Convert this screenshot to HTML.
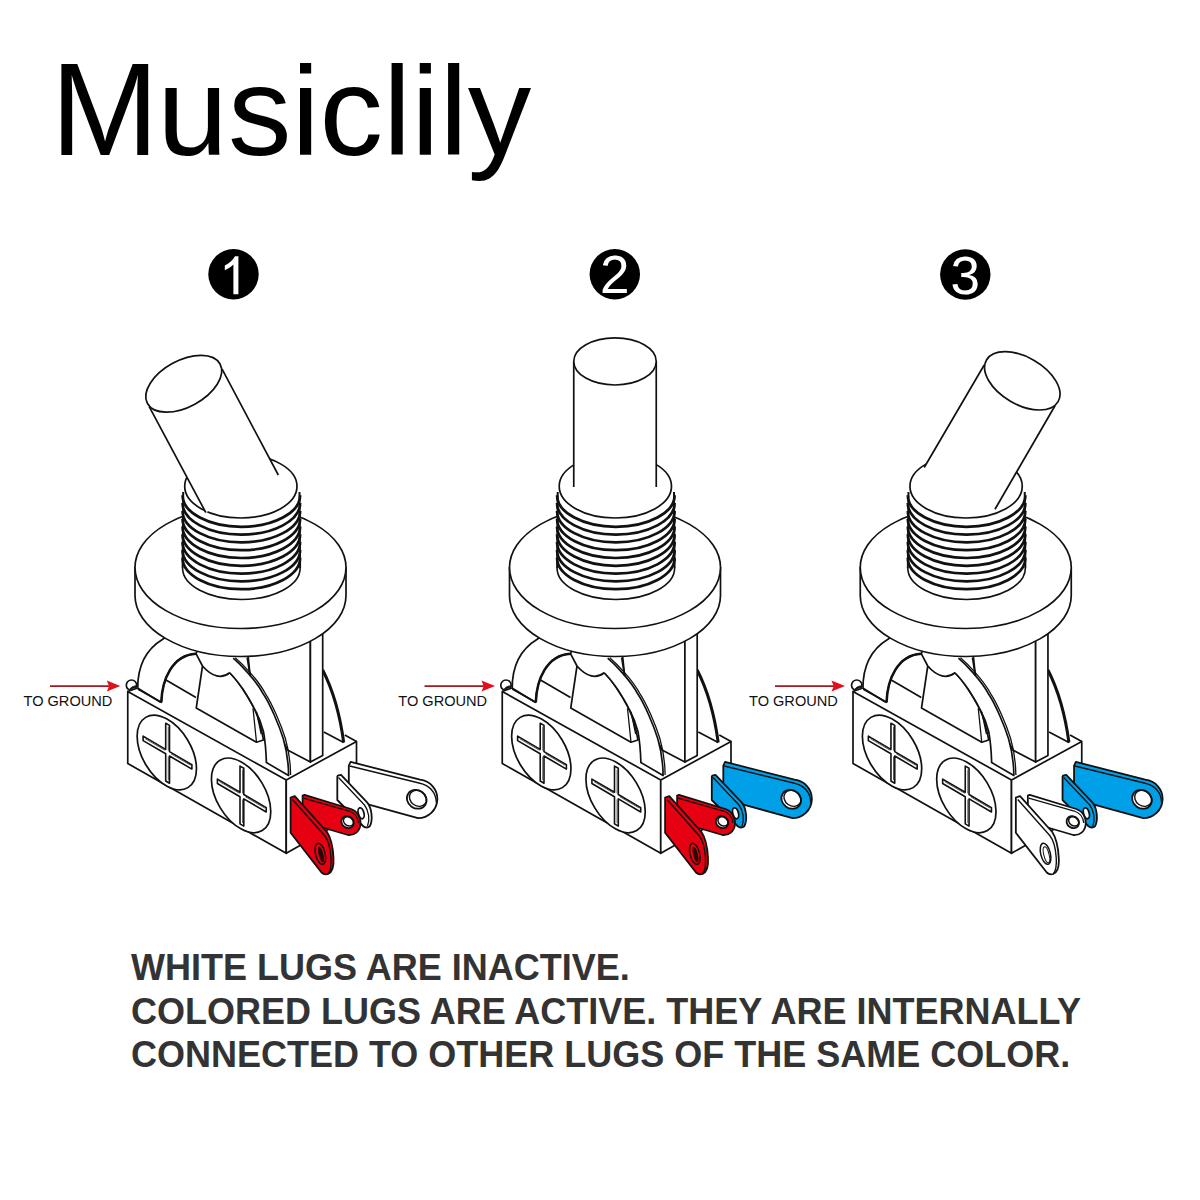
<!DOCTYPE html>
<html><head><meta charset="utf-8"><style>
html,body{margin:0;padding:0;background:#fff;width:1200px;height:1200px;overflow:hidden}
svg{position:absolute;left:0;top:0}
</style></head><body>
<svg width="1200" height="1200" viewBox="0 0 1200 1200">

<g font-family="Liberation Sans" font-size="127" fill="#000"><text transform="translate(61.5 155) scale(1.021 1.044) translate(-62 -154.8)" x="51.5" y="154.8">M</text><text x="157.28" y="155">usiclily</text></g>
<g font-family="Liberation Sans" font-size="52" fill="#fff" text-anchor="middle">
<circle cx="233.5" cy="274.2" r="25.2" fill="#000"/><path d="M238.4,256.2 L238.4,294.2 L233.4,294.2 L233.4,264.5 C231,267 228,268.8 224.8,270.2 L224.8,265.6 C229,263.5 233,260 235,256.2 Z"/>
<circle cx="614.8" cy="274.2" r="25.2" fill="#000"/><text x="614.8" y="292.6" font-size="53">2</text>
<circle cx="965.3" cy="274.5" r="25.2" fill="#000"/><text x="965.3" y="294.4" font-size="53">3</text>
</g>
<g stroke="#111" stroke-width="1.7" stroke-linejoin="round">
<path d="M322.7,670 Q338,700 343.7,742.5" fill="none" stroke-width="3"/>
<path d="M323.8,732 L343.7,742.5 M344.8,735 L356.5,741.4" fill="none"/>
<path d="M247.5,650 L310.4,640 L310.4,762 L287.5,750 L250.1,675.7 Z" fill="#fff"/>
<path d="M310.4,630 L322.7,625 L322.7,755.4 L310.4,762 Z" fill="#fff"/>
<path d="M137.7,689 C137.5,668 145,650 162.7,639.3 L175,630 L200,645 L196,653.7 C172,655 162,680 161.3,702.3 Z" fill="#fff"/>
<path d="M196,653.7 C172,655 162,680 161.3,702.3" fill="none" stroke-width="2.5"/>
<path d="M166,680 L196,697.5" fill="none"/>
<path d="M196,653.7 L202.5,666 C212,677 222,679 229.7,672.75 C238,681 247,695 254.2,708.3 C259,718 262,732 263.5,740 L256.5,742.2 L196.25,708 L202.5,666" fill="#fff"/>
<path d="M233.2,658.2 C240,664 256,680 263.5,694.3 C270,704 279,725 283.3,738.7 C286,748 288.5,765 288.6,775.4 L266.4,762.6 C266,750 265,740 263.5,731.7 C260,718 256,712 254.2,708.3 C250,700 246,694 242.5,688.5 C238,682 233,676 229.7,672.75 Z" fill="#fff" stroke="none"/>
<path d="M233.2,658.2 C240,664 256,680 263.5,694.3 C270,704 279,725 283.3,738.7 C286,748 288.5,765 288.6,775.4 L266.4,762.6 C266,750 265,740 263.5,731.7 C260,718 256,712 254.2,708.3 C250,700 246,694 242.5,688.5 C238,682 233,676 229.7,672.75" fill="none"/>
<path d="M235.2,657.7 C242,663.5 258,679.5 265.5,693.8 C272,703.5 281,724.5 285.3,738.2 C288,747.5 290.5,764.5 290.6,775" fill="none" stroke-width="1.3"/>
<path d="M253,708.3 L256.5,742.2 M256.5,711.8 L261.2,734" fill="none" stroke-width="1.3"/>
<path d="M247.2,657.6 L250.1,675.7" fill="none"/>
<path d="M135.0,567.5 L135.0,595.5 A105.5,61 0 0 0 346.0,595.5 L346.0,567.5 Z" fill="#fff"/>
<ellipse cx="240.5" cy="567.5" rx="105.5" ry="61" fill="#fff"/>
<path d="M182.55,487 L182.55,568.0 A58.8,31.5 0 0 0 300.15,568.0 L300.15,487 Z" fill="#fff" stroke="none"/>
<path d="M182.55,568.0 A58.8,31.5 0 0 0 300.15,568.0" fill="none" stroke-width="1.6"/>
<path d="M182.55,495.29999999999995 A58.8,31.5 0 0 0 300.15,495.29999999999995" fill="none" stroke-width="2.7"/>
<path d="M182.55,503.0999999999999 A58.8,31.5 0 0 0 300.15,503.0999999999999" fill="none" stroke-width="2.7"/>
<path d="M182.55,510.9 A58.8,31.5 0 0 0 300.15,510.9" fill="none" stroke-width="2.7"/>
<path d="M182.55,518.6999999999999 A58.8,31.5 0 0 0 300.15,518.6999999999999" fill="none" stroke-width="2.7"/>
<path d="M182.55,526.5 A58.8,31.5 0 0 0 300.15,526.5" fill="none" stroke-width="2.7"/>
<path d="M182.55,534.3 A58.8,31.5 0 0 0 300.15,534.3" fill="none" stroke-width="2.7"/>
<path d="M182.55,542.0999999999999 A58.8,31.5 0 0 0 300.15,542.0999999999999" fill="none" stroke-width="2.7"/>
<path d="M182.55,549.9 A58.8,31.5 0 0 0 300.15,549.9" fill="none" stroke-width="2.7"/>
<path d="M182.55,557.6999999999999 A58.8,31.5 0 0 0 300.15,557.6999999999999" fill="none" stroke-width="2.7"/>
<path d="M183.2,492 L182.6,568" fill="none" stroke-width="2"/><path d="M299.5,492 L300.1,568" fill="none" stroke-width="2"/>
<ellipse cx="240.85" cy="486.3" rx="56.15" ry="31.7" fill="#fff"/>
<circle cx="131.5" cy="685.2" r="5.2" fill="#fff"/>
<path d="M129.5,689.5 C130.5,687.5 133,686 136,685.8 L136.5,687.2 C134,687.6 131.5,689 130.5,690.5 Z" fill="#111" stroke-width="0.8"/>
<path d="M126,691.6 L137.5,687.6 L138,696 L126,699 Z" fill="#fff" stroke="none"/>
<path d="M127.75,691.5 L137.5,688" fill="none"/>
<path d="M127.75,691.5 L127.75,763.5 L286.25,853.3 L286.25,780 Z" fill="#fff"/>
<path d="M286.25,780 L356.5,741.4 L356.5,813.6 L286.25,853.3 Z" fill="#fff"/>
<path d="M137.5,688 L160.6,702.25" fill="none"/>
<ellipse cx="166.8" cy="752.5" rx="41" ry="24.3" transform="rotate(59 166.8 752.5)" fill="#fff"/>
<path d="M165.70,723.20 L169.50,725.40 L169.50,751.61 L191.90,764.72 L191.90,769.12 L169.50,756.01 L169.50,783.20 L165.70,781.00 L165.70,753.79 L143.10,740.57 L143.10,736.17 L165.70,749.39 Z" fill="#fff" stroke-width="1.6"/><path d="M168.30,726.70 L168.30,750.61 M168.30,756.51 L168.30,780.20 M145.10,738.64 L165.20,750.40 M171.00,753.79 L190.60,765.26" fill="none" stroke-width="0.9" stroke="#444"/>
<ellipse cx="241.1" cy="795.4" rx="41" ry="24.3" transform="rotate(59 241.1 795.4)" fill="#fff"/>
<path d="M240.00,766.10 L243.80,768.30 L243.80,794.51 L266.20,807.62 L266.20,812.02 L243.80,798.91 L243.80,826.10 L240.00,823.90 L240.00,796.69 L217.40,783.47 L217.40,779.07 L240.00,792.29 Z" fill="#fff" stroke-width="1.6"/><path d="M242.60,769.60 L242.60,793.51 M242.60,799.41 L242.60,823.10 M219.40,781.54 L239.50,793.30 M245.30,796.69 L264.90,808.15" fill="none" stroke-width="0.9" stroke="#444"/>
</g>
<g stroke="#111" stroke-width="1.7" stroke-linejoin="round" transform="translate(374.5 0)">
<path d="M322.7,670 Q338,700 343.7,742.5" fill="none" stroke-width="3"/>
<path d="M323.8,732 L343.7,742.5 M344.8,735 L356.5,741.4" fill="none"/>
<path d="M247.5,650 L310.4,640 L310.4,762 L287.5,750 L250.1,675.7 Z" fill="#fff"/>
<path d="M310.4,630 L322.7,625 L322.7,755.4 L310.4,762 Z" fill="#fff"/>
<path d="M137.7,689 C137.5,668 145,650 162.7,639.3 L175,630 L200,645 L196,653.7 C172,655 162,680 161.3,702.3 Z" fill="#fff"/>
<path d="M196,653.7 C172,655 162,680 161.3,702.3" fill="none" stroke-width="2.5"/>
<path d="M166,680 L196,697.5" fill="none"/>
<path d="M196,653.7 L202.5,666 C212,677 222,679 229.7,672.75 C238,681 247,695 254.2,708.3 C259,718 262,732 263.5,740 L256.5,742.2 L196.25,708 L202.5,666" fill="#fff"/>
<path d="M233.2,658.2 C240,664 256,680 263.5,694.3 C270,704 279,725 283.3,738.7 C286,748 288.5,765 288.6,775.4 L266.4,762.6 C266,750 265,740 263.5,731.7 C260,718 256,712 254.2,708.3 C250,700 246,694 242.5,688.5 C238,682 233,676 229.7,672.75 Z" fill="#fff" stroke="none"/>
<path d="M233.2,658.2 C240,664 256,680 263.5,694.3 C270,704 279,725 283.3,738.7 C286,748 288.5,765 288.6,775.4 L266.4,762.6 C266,750 265,740 263.5,731.7 C260,718 256,712 254.2,708.3 C250,700 246,694 242.5,688.5 C238,682 233,676 229.7,672.75" fill="none"/>
<path d="M235.2,657.7 C242,663.5 258,679.5 265.5,693.8 C272,703.5 281,724.5 285.3,738.2 C288,747.5 290.5,764.5 290.6,775" fill="none" stroke-width="1.3"/>
<path d="M253,708.3 L256.5,742.2 M256.5,711.8 L261.2,734" fill="none" stroke-width="1.3"/>
<path d="M247.2,657.6 L250.1,675.7" fill="none"/>
<path d="M135.0,567.5 L135.0,595.5 A105.5,61 0 0 0 346.0,595.5 L346.0,567.5 Z" fill="#fff"/>
<ellipse cx="240.5" cy="567.5" rx="105.5" ry="61" fill="#fff"/>
<path d="M182.55,487 L182.55,568.0 A58.8,31.5 0 0 0 300.15,568.0 L300.15,487 Z" fill="#fff" stroke="none"/>
<path d="M182.55,568.0 A58.8,31.5 0 0 0 300.15,568.0" fill="none" stroke-width="1.6"/>
<path d="M182.55,495.29999999999995 A58.8,31.5 0 0 0 300.15,495.29999999999995" fill="none" stroke-width="2.7"/>
<path d="M182.55,503.0999999999999 A58.8,31.5 0 0 0 300.15,503.0999999999999" fill="none" stroke-width="2.7"/>
<path d="M182.55,510.9 A58.8,31.5 0 0 0 300.15,510.9" fill="none" stroke-width="2.7"/>
<path d="M182.55,518.6999999999999 A58.8,31.5 0 0 0 300.15,518.6999999999999" fill="none" stroke-width="2.7"/>
<path d="M182.55,526.5 A58.8,31.5 0 0 0 300.15,526.5" fill="none" stroke-width="2.7"/>
<path d="M182.55,534.3 A58.8,31.5 0 0 0 300.15,534.3" fill="none" stroke-width="2.7"/>
<path d="M182.55,542.0999999999999 A58.8,31.5 0 0 0 300.15,542.0999999999999" fill="none" stroke-width="2.7"/>
<path d="M182.55,549.9 A58.8,31.5 0 0 0 300.15,549.9" fill="none" stroke-width="2.7"/>
<path d="M182.55,557.6999999999999 A58.8,31.5 0 0 0 300.15,557.6999999999999" fill="none" stroke-width="2.7"/>
<path d="M183.2,492 L182.6,568" fill="none" stroke-width="2"/><path d="M299.5,492 L300.1,568" fill="none" stroke-width="2"/>
<ellipse cx="240.85" cy="486.3" rx="56.15" ry="31.7" fill="#fff"/>
<circle cx="131.5" cy="685.2" r="5.2" fill="#fff"/>
<path d="M129.5,689.5 C130.5,687.5 133,686 136,685.8 L136.5,687.2 C134,687.6 131.5,689 130.5,690.5 Z" fill="#111" stroke-width="0.8"/>
<path d="M126,691.6 L137.5,687.6 L138,696 L126,699 Z" fill="#fff" stroke="none"/>
<path d="M127.75,691.5 L137.5,688" fill="none"/>
<path d="M127.75,691.5 L127.75,763.5 L286.25,853.3 L286.25,780 Z" fill="#fff"/>
<path d="M286.25,780 L356.5,741.4 L356.5,813.6 L286.25,853.3 Z" fill="#fff"/>
<path d="M137.5,688 L160.6,702.25" fill="none"/>
<ellipse cx="166.8" cy="752.5" rx="41" ry="24.3" transform="rotate(59 166.8 752.5)" fill="#fff"/>
<path d="M165.70,723.20 L169.50,725.40 L169.50,751.61 L191.90,764.72 L191.90,769.12 L169.50,756.01 L169.50,783.20 L165.70,781.00 L165.70,753.79 L143.10,740.57 L143.10,736.17 L165.70,749.39 Z" fill="#fff" stroke-width="1.6"/><path d="M168.30,726.70 L168.30,750.61 M168.30,756.51 L168.30,780.20 M145.10,738.64 L165.20,750.40 M171.00,753.79 L190.60,765.26" fill="none" stroke-width="0.9" stroke="#444"/>
<ellipse cx="241.1" cy="795.4" rx="41" ry="24.3" transform="rotate(59 241.1 795.4)" fill="#fff"/>
<path d="M240.00,766.10 L243.80,768.30 L243.80,794.51 L266.20,807.62 L266.20,812.02 L243.80,798.91 L243.80,826.10 L240.00,823.90 L240.00,796.69 L217.40,783.47 L217.40,779.07 L240.00,792.29 Z" fill="#fff" stroke-width="1.6"/><path d="M242.60,769.60 L242.60,793.51 M242.60,799.41 L242.60,823.10 M219.40,781.54 L239.50,793.30 M245.30,796.69 L264.90,808.15" fill="none" stroke-width="0.9" stroke="#444"/>
</g>
<g stroke="#111" stroke-width="1.7" stroke-linejoin="round" transform="translate(725.25 0)">
<path d="M322.7,670 Q338,700 343.7,742.5" fill="none" stroke-width="3"/>
<path d="M323.8,732 L343.7,742.5 M344.8,735 L356.5,741.4" fill="none"/>
<path d="M247.5,650 L310.4,640 L310.4,762 L287.5,750 L250.1,675.7 Z" fill="#fff"/>
<path d="M310.4,630 L322.7,625 L322.7,755.4 L310.4,762 Z" fill="#fff"/>
<path d="M137.7,689 C137.5,668 145,650 162.7,639.3 L175,630 L200,645 L196,653.7 C172,655 162,680 161.3,702.3 Z" fill="#fff"/>
<path d="M196,653.7 C172,655 162,680 161.3,702.3" fill="none" stroke-width="2.5"/>
<path d="M166,680 L196,697.5" fill="none"/>
<path d="M196,653.7 L202.5,666 C212,677 222,679 229.7,672.75 C238,681 247,695 254.2,708.3 C259,718 262,732 263.5,740 L256.5,742.2 L196.25,708 L202.5,666" fill="#fff"/>
<path d="M233.2,658.2 C240,664 256,680 263.5,694.3 C270,704 279,725 283.3,738.7 C286,748 288.5,765 288.6,775.4 L266.4,762.6 C266,750 265,740 263.5,731.7 C260,718 256,712 254.2,708.3 C250,700 246,694 242.5,688.5 C238,682 233,676 229.7,672.75 Z" fill="#fff" stroke="none"/>
<path d="M233.2,658.2 C240,664 256,680 263.5,694.3 C270,704 279,725 283.3,738.7 C286,748 288.5,765 288.6,775.4 L266.4,762.6 C266,750 265,740 263.5,731.7 C260,718 256,712 254.2,708.3 C250,700 246,694 242.5,688.5 C238,682 233,676 229.7,672.75" fill="none"/>
<path d="M235.2,657.7 C242,663.5 258,679.5 265.5,693.8 C272,703.5 281,724.5 285.3,738.2 C288,747.5 290.5,764.5 290.6,775" fill="none" stroke-width="1.3"/>
<path d="M253,708.3 L256.5,742.2 M256.5,711.8 L261.2,734" fill="none" stroke-width="1.3"/>
<path d="M247.2,657.6 L250.1,675.7" fill="none"/>
<path d="M135.0,567.5 L135.0,595.5 A105.5,61 0 0 0 346.0,595.5 L346.0,567.5 Z" fill="#fff"/>
<ellipse cx="240.5" cy="567.5" rx="105.5" ry="61" fill="#fff"/>
<path d="M182.55,487 L182.55,568.0 A58.8,31.5 0 0 0 300.15,568.0 L300.15,487 Z" fill="#fff" stroke="none"/>
<path d="M182.55,568.0 A58.8,31.5 0 0 0 300.15,568.0" fill="none" stroke-width="1.6"/>
<path d="M182.55,495.29999999999995 A58.8,31.5 0 0 0 300.15,495.29999999999995" fill="none" stroke-width="2.7"/>
<path d="M182.55,503.0999999999999 A58.8,31.5 0 0 0 300.15,503.0999999999999" fill="none" stroke-width="2.7"/>
<path d="M182.55,510.9 A58.8,31.5 0 0 0 300.15,510.9" fill="none" stroke-width="2.7"/>
<path d="M182.55,518.6999999999999 A58.8,31.5 0 0 0 300.15,518.6999999999999" fill="none" stroke-width="2.7"/>
<path d="M182.55,526.5 A58.8,31.5 0 0 0 300.15,526.5" fill="none" stroke-width="2.7"/>
<path d="M182.55,534.3 A58.8,31.5 0 0 0 300.15,534.3" fill="none" stroke-width="2.7"/>
<path d="M182.55,542.0999999999999 A58.8,31.5 0 0 0 300.15,542.0999999999999" fill="none" stroke-width="2.7"/>
<path d="M182.55,549.9 A58.8,31.5 0 0 0 300.15,549.9" fill="none" stroke-width="2.7"/>
<path d="M182.55,557.6999999999999 A58.8,31.5 0 0 0 300.15,557.6999999999999" fill="none" stroke-width="2.7"/>
<path d="M183.2,492 L182.6,568" fill="none" stroke-width="2"/><path d="M299.5,492 L300.1,568" fill="none" stroke-width="2"/>
<ellipse cx="240.85" cy="486.3" rx="56.15" ry="31.7" fill="#fff"/>
<circle cx="131.5" cy="685.2" r="5.2" fill="#fff"/>
<path d="M129.5,689.5 C130.5,687.5 133,686 136,685.8 L136.5,687.2 C134,687.6 131.5,689 130.5,690.5 Z" fill="#111" stroke-width="0.8"/>
<path d="M126,691.6 L137.5,687.6 L138,696 L126,699 Z" fill="#fff" stroke="none"/>
<path d="M127.75,691.5 L137.5,688" fill="none"/>
<path d="M127.75,691.5 L127.75,763.5 L286.25,853.3 L286.25,780 Z" fill="#fff"/>
<path d="M286.25,780 L356.5,741.4 L356.5,813.6 L286.25,853.3 Z" fill="#fff"/>
<path d="M137.5,688 L160.6,702.25" fill="none"/>
<ellipse cx="166.8" cy="752.5" rx="41" ry="24.3" transform="rotate(59 166.8 752.5)" fill="#fff"/>
<path d="M165.70,723.20 L169.50,725.40 L169.50,751.61 L191.90,764.72 L191.90,769.12 L169.50,756.01 L169.50,783.20 L165.70,781.00 L165.70,753.79 L143.10,740.57 L143.10,736.17 L165.70,749.39 Z" fill="#fff" stroke-width="1.6"/><path d="M168.30,726.70 L168.30,750.61 M168.30,756.51 L168.30,780.20 M145.10,738.64 L165.20,750.40 M171.00,753.79 L190.60,765.26" fill="none" stroke-width="0.9" stroke="#444"/>
<ellipse cx="241.1" cy="795.4" rx="41" ry="24.3" transform="rotate(59 241.1 795.4)" fill="#fff"/>
<path d="M240.00,766.10 L243.80,768.30 L243.80,794.51 L266.20,807.62 L266.20,812.02 L243.80,798.91 L243.80,826.10 L240.00,823.90 L240.00,796.69 L217.40,783.47 L217.40,779.07 L240.00,792.29 Z" fill="#fff" stroke-width="1.6"/><path d="M242.60,769.60 L242.60,793.51 M242.60,799.41 L242.60,823.10 M219.40,781.54 L239.50,793.30 M245.30,796.69 L264.90,808.15" fill="none" stroke-width="0.9" stroke="#444"/>
</g>
<g stroke="#111" stroke-width="1.7">
<path d="M149.2,406.7 L205.8,512.5 L278.3,475 L222.1,369.2 Z" fill="#fff" stroke="none"/><path d="M149.2,406.7 L205.8,512.5 M222.1,369.2 L278.3,475" fill="none"/><ellipse cx="183.75" cy="383.75" rx="41.3" ry="23.2" transform="rotate(-28.55 183.75 383.75)" fill="#fff"/>
<path d="M573.75,361.45 L573.75,487 L656.25,487 L656.25,361.45 Z" fill="#fff" stroke="none"/><path d="M573.75,361.45 L573.75,487 M656.25,361.45 L656.25,487" fill="none"/><ellipse cx="615" cy="361.45" rx="41.25" ry="23.55" fill="#fff"/>
<path d="M984.2,365 L924.2,467.5 L995,509.2 L1055,405.8 Z" fill="#fff" stroke="none"/><path d="M984.2,365 L924.2,467.5 M1055,405.8 L995,509.2" fill="none"/><ellipse cx="1022.3" cy="380.85" rx="41.4" ry="23.6" transform="rotate(30.2 1022.3 380.85)" fill="#fff"/>
</g>
<g transform="translate(0 0)" stroke="#111" stroke-width="1.8" stroke-linejoin="round">
<path d="M348.8,765.6 L350.6,761.9 L420,779.7 A19.3,19.3 0 0 1 418,818.2 L367.1,804.1 L348.8,800 Z" fill="#fff"/>
<path d="M349.7,766 L419,783 C430,785.5 436,793 436.4,803" fill="none" stroke-width="1.3"/>
<ellipse cx="416.7" cy="799.3" rx="10.2" ry="9.0" transform="rotate(35 416.7 799.3)" fill="#fff"/>
<ellipse cx="418.0" cy="798.3" rx="9.0" ry="7.6" transform="rotate(35 418.0 798.3)" fill="none" stroke-width="1.4"/>
<path d="M337.3,776.6 L337.75,775.7 L341,774.8 L367.1,802.3 C372,808 373,820 369.9,826.1 C368,828 365,828 363,826 L337.3,800 Z" fill="#fff"/>
<path d="M338.5,777.5 L364.5,805 C369,811 370,820 367.5,826" fill="none" stroke-width="1.3"/>
<ellipse cx="361.1" cy="813.3" rx="2.8" ry="5.6" transform="rotate(-15 361.1 813.3)" fill="#fff"/>
<path d="M302.6,818 L302.6,795.6 L304.5,794.8 L351,809 C357,811 361,817 360.5,824 C360,831 355,835.5 348,835 L317.3,826 Z" fill="#e60012"/>
<path d="M303.5,798 L349,811 C355,813 358,818 358.5,823" fill="none" stroke-width="1.3"/>
<ellipse cx="347.5" cy="822.2" rx="6.5" ry="5.6" transform="rotate(35 347.5 822.2)" fill="#fff" stroke-width="1.9"/>
<ellipse cx="348.5" cy="821.3" rx="5.4" ry="4.4" transform="rotate(35 348.5 821.3)" fill="none" stroke-width="1.5"/>
<path d="M290.6,797.5 L294.8,796.2 L327,832 C331,838 333,848 333.5,858 C334,866 333,872 328,874 C325,875 323,874 321.5,872.5 L290.6,832.8 Z" fill="#e60012"/>
<path d="M292.5,799.5 L324.5,835.5 C329,841 330.5,850 331,858 C331.5,866 330.5,871 328,874" fill="none" stroke-width="1.4"/>
<ellipse cx="320.3" cy="853.75" rx="4.8" ry="10.8" transform="rotate(-14 320.3 853.75)" fill="none" stroke-width="1.5"/>
<ellipse cx="321" cy="854.5" rx="2.4" ry="8" transform="rotate(-14 321 854.5)" fill="#2a0505" stroke="none"/>
</g>
<g transform="translate(374.5 0)" stroke="#111" stroke-width="1.8" stroke-linejoin="round">
<path d="M348.8,765.6 L350.6,761.9 L420,779.7 A19.3,19.3 0 0 1 418,818.2 L367.1,804.1 L348.8,800 Z" fill="#00a0e9"/>
<path d="M349.7,766 L419,783 C430,785.5 436,793 436.4,803" fill="none" stroke-width="1.3"/>
<ellipse cx="416.7" cy="799.3" rx="10.2" ry="9.0" transform="rotate(35 416.7 799.3)" fill="#fff"/>
<ellipse cx="418.0" cy="798.3" rx="9.0" ry="7.6" transform="rotate(35 418.0 798.3)" fill="none" stroke-width="1.4"/>
<path d="M337.3,776.6 L337.75,775.7 L341,774.8 L367.1,802.3 C372,808 373,820 369.9,826.1 C368,828 365,828 363,826 L337.3,800 Z" fill="#00a0e9"/>
<path d="M338.5,777.5 L364.5,805 C369,811 370,820 367.5,826" fill="none" stroke-width="1.3"/>
<ellipse cx="361.1" cy="813.3" rx="2.8" ry="5.6" transform="rotate(-15 361.1 813.3)" fill="#fff"/>
<path d="M302.6,818 L302.6,795.6 L304.5,794.8 L351,809 C357,811 361,817 360.5,824 C360,831 355,835.5 348,835 L317.3,826 Z" fill="#e60012"/>
<path d="M303.5,798 L349,811 C355,813 358,818 358.5,823" fill="none" stroke-width="1.3"/>
<ellipse cx="347.5" cy="822.2" rx="6.5" ry="5.6" transform="rotate(35 347.5 822.2)" fill="#fff" stroke-width="1.9"/>
<ellipse cx="348.5" cy="821.3" rx="5.4" ry="4.4" transform="rotate(35 348.5 821.3)" fill="none" stroke-width="1.5"/>
<path d="M290.6,797.5 L294.8,796.2 L327,832 C331,838 333,848 333.5,858 C334,866 333,872 328,874 C325,875 323,874 321.5,872.5 L290.6,832.8 Z" fill="#e60012"/>
<path d="M292.5,799.5 L324.5,835.5 C329,841 330.5,850 331,858 C331.5,866 330.5,871 328,874" fill="none" stroke-width="1.4"/>
<ellipse cx="320.3" cy="853.75" rx="4.8" ry="10.8" transform="rotate(-14 320.3 853.75)" fill="none" stroke-width="1.5"/>
<ellipse cx="321" cy="854.5" rx="2.4" ry="8" transform="rotate(-14 321 854.5)" fill="#2a0505" stroke="none"/>
</g>
<g transform="translate(725.25 0)" stroke="#111" stroke-width="1.8" stroke-linejoin="round">
<path d="M348.8,765.6 L350.6,761.9 L420,779.7 A19.3,19.3 0 0 1 418,818.2 L367.1,804.1 L348.8,800 Z" fill="#00a0e9"/>
<path d="M349.7,766 L419,783 C430,785.5 436,793 436.4,803" fill="none" stroke-width="1.3"/>
<ellipse cx="416.7" cy="799.3" rx="10.2" ry="9.0" transform="rotate(35 416.7 799.3)" fill="#fff"/>
<ellipse cx="418.0" cy="798.3" rx="9.0" ry="7.6" transform="rotate(35 418.0 798.3)" fill="none" stroke-width="1.4"/>
<path d="M337.3,776.6 L337.75,775.7 L341,774.8 L367.1,802.3 C372,808 373,820 369.9,826.1 C368,828 365,828 363,826 L337.3,800 Z" fill="#00a0e9"/>
<path d="M338.5,777.5 L364.5,805 C369,811 370,820 367.5,826" fill="none" stroke-width="1.3"/>
<ellipse cx="361.1" cy="813.3" rx="2.8" ry="5.6" transform="rotate(-15 361.1 813.3)" fill="#fff"/>
<path d="M302.6,818 L302.6,795.6 L304.5,794.8 L351,809 C357,811 361,817 360.5,824 C360,831 355,835.5 348,835 L317.3,826 Z" fill="#fff"/>
<path d="M303.5,798 L349,811 C355,813 358,818 358.5,823" fill="none" stroke-width="1.3"/>
<ellipse cx="347.5" cy="822.2" rx="6.5" ry="5.6" transform="rotate(35 347.5 822.2)" fill="#fff" stroke-width="1.9"/>
<ellipse cx="348.5" cy="821.3" rx="5.4" ry="4.4" transform="rotate(35 348.5 821.3)" fill="none" stroke-width="1.5"/>
<path d="M290.6,797.5 L294.8,796.2 L327,832 C331,838 333,848 333.5,858 C334,866 333,872 328,874 C325,875 323,874 321.5,872.5 L290.6,832.8 Z" fill="#fff"/>
<path d="M292.5,799.5 L324.5,835.5 C329,841 330.5,850 331,858 C331.5,866 330.5,871 328,874" fill="none" stroke-width="1.4"/>
<ellipse cx="320.3" cy="853.75" rx="4.8" ry="10.8" transform="rotate(-14 320.3 853.75)" fill="none" stroke-width="1.5"/>
<ellipse cx="321.2" cy="854.8" rx="2.6" ry="8.2" transform="rotate(-14 321.2 854.8)" fill="none" stroke-width="1"/>
</g>
<g fill="#a31825">
<path d="M50,685.2 L110,685.2 L110,687 L50,687 Z"/>
<path d="M424.5,685.2 L485,685.2 L485,687 L424.5,687 Z"/>
<path d="M775,685.2 L835,685.2 L835,687 L775,687 Z"/>
</g>
<g fill="#e3101c">
<path d="M120.3,686 L106.8,680.5 L109,686.2 L106.8,691.5 Z"/>
<path d="M495,686 L481.5,680.5 L483.7,686.2 L481.5,691.5 Z"/>
<path d="M845,686 L831.5,680.5 L833.7,686.2 L831.5,691.5 Z"/>
</g>
<g font-family="Liberation Sans" font-size="14.6" fill="#111">
<text x="23.5" y="706" transform="translate(0 706) scale(1 1.04) translate(0 -706)">TO GROUND</text>
<text x="398.3" y="706" transform="translate(0 706) scale(1 1.04) translate(0 -706)">TO GROUND</text>
<text x="749" y="706" transform="translate(0 706) scale(1 1.04) translate(0 -706)">TO GROUND</text>
</g>
<g font-family="Liberation Sans" font-weight="bold" font-size="36" fill="#333">
<text x="131" y="980">WHITE LUGS ARE INACTIVE.</text>
<text x="131" y="1023.5">COLORED LUGS ARE ACTIVE. THEY ARE INTERNALLY</text>
<text x="131" y="1067">CONNECTED TO OTHER LUGS OF THE SAME COLOR.</text>
</g>
</svg>
</body></html>
